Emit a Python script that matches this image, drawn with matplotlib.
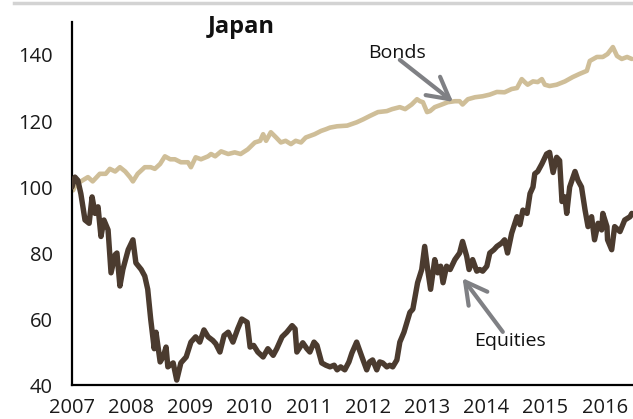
import matplotlib
matplotlib.use("Agg")
import matplotlib.pyplot as plt
from matplotlib.lines import Line2D

plt.rcParams["font.family"] = ["Open Sans", "DejaVu Sans"]

# Japan: equities vs bonds total return index (start of 2007 = 100)
equity_dates = [
    2007.00, 2007.05, 2007.10, 2007.15, 2007.22, 2007.29, 2007.34, 2007.39,
    2007.44, 2007.49, 2007.54, 2007.61, 2007.66, 2007.73, 2007.76, 2007.81,
    2007.86, 2007.95, 2008.03, 2008.08, 2008.17, 2008.23, 2008.28, 2008.33,
    2008.39, 2008.42, 2008.49, 2008.54, 2008.59, 2008.62, 2008.71, 2008.77,
    2008.84, 2008.93, 2009.01, 2009.09, 2009.16, 2009.23, 2009.30, 2009.38,
    2009.43, 2009.50, 2009.57, 2009.64, 2009.72, 2009.80, 2009.87, 2009.96,
    2010.01, 2010.07, 2010.14, 2010.23, 2010.31, 2010.40, 2010.46, 2010.55,
    2010.63, 2010.72, 2010.77, 2010.80, 2010.90, 2010.97, 2011.02, 2011.09,
    2011.14, 2011.22, 2011.29, 2011.36, 2011.43, 2011.48, 2011.54, 2011.61,
    2011.68, 2011.73, 2011.81, 2011.90, 2011.98, 2012.03, 2012.08, 2012.15,
    2012.20, 2012.25, 2012.32, 2012.37, 2012.42, 2012.49, 2012.54, 2012.61,
    2012.66, 2012.71, 2012.76, 2012.79, 2012.84, 2012.91, 2012.96, 2013.01,
    2013.06, 2013.13, 2013.18, 2013.23, 2013.27, 2013.33, 2013.39, 2013.47,
    2013.55, 2013.60, 2013.67, 2013.71, 2013.77, 2013.84, 2013.89, 2013.94,
    2014.01, 2014.06, 2014.13, 2014.18, 2014.26, 2014.31, 2014.36, 2014.43,
    2014.52, 2014.57, 2014.62, 2014.69, 2014.74, 2014.79, 2014.82, 2014.87,
    2014.94, 2015.02, 2015.07, 2015.13, 2015.19, 2015.24, 2015.28, 2015.33,
    2015.36, 2015.41, 2015.50, 2015.55, 2015.61, 2015.67, 2015.72, 2015.78,
    2015.83, 2015.89, 2015.95, 2015.97, 2016.04, 2016.05, 2016.12, 2016.17,
    2016.26, 2016.34, 2016.43, 2016.46,
]
equity_values = [
    100.0, 103.0, 102.0, 98.0, 90.0, 89.0, 97.0, 92.0,
    94.0, 85.0, 90.0, 87.0, 74.0, 79.5, 80.0, 70.0,
    75.0, 81.0, 84.0, 77.0, 75.0, 73.0, 69.0, 60.0,
    51.0, 56.0, 47.0, 48.5, 51.5, 45.5, 46.7, 41.5,
    46.7, 48.5, 53.0, 54.6, 53.0, 56.7, 54.6, 53.5,
    52.5, 50.0, 55.0, 56.0, 53.0, 57.0, 60.0, 59.0,
    51.5, 52.0, 50.0, 48.5, 51.0, 49.0, 51.0, 54.6,
    56.0, 58.0, 57.0, 50.0, 52.8, 51.0, 50.0, 53.0,
    52.0, 46.7, 46.0, 45.5, 46.0, 44.6, 45.5, 44.6,
    47.0, 49.7, 53.0, 48.5, 44.6, 47.0, 47.6, 44.6,
    47.0, 46.7, 45.5, 46.0, 45.5, 47.6, 53.0, 56.0,
    59.0, 62.0, 63.0, 66.0, 71.0, 75.0, 82.0, 75.0,
    69.0, 78.0, 74.0, 76.0, 71.0, 76.0, 75.0, 78.0,
    80.0, 83.5, 79.0, 75.0, 78.0, 74.5, 75.0, 74.5,
    76.0, 80.0, 81.0, 82.0, 83.0, 84.0, 80.0, 86.0,
    91.0, 88.6, 93.0, 92.0, 98.0, 100.0, 104.0, 104.7,
    107.0, 110.0, 110.5, 104.4, 109.0, 108.0, 95.6, 97.0,
    92.0, 100.0, 104.7, 102.0, 100.0, 93.0, 88.0, 91.0,
    84.0, 89.0, 87.0, 92.0, 88.0, 84.0, 81.0, 88.0,
    86.5, 90.0, 91.0, 92.0,
]

bond_dates = [
    2007.00, 2007.02, 2007.07, 2007.15, 2007.27, 2007.35, 2007.47, 2007.57,
    2007.64, 2007.73, 2007.81, 2007.90, 2007.98, 2008.03, 2008.11, 2008.23,
    2008.33, 2008.40, 2008.49, 2008.57, 2008.66, 2008.74, 2008.84, 2008.96,
    2009.01, 2009.09, 2009.18, 2009.30, 2009.35, 2009.42, 2009.52, 2009.64,
    2009.75, 2009.85, 2009.97, 2010.09, 2010.18, 2010.23, 2010.28, 2010.36,
    2010.45, 2010.53, 2010.61, 2010.70, 2010.78, 2010.87, 2010.95, 2011.10,
    2011.21, 2011.29, 2011.36, 2011.48, 2011.65, 2011.81, 2011.92, 2012.03,
    2012.17, 2012.32, 2012.41, 2012.54, 2012.63, 2012.74, 2012.83, 2012.88,
    2012.93, 2013.00, 2013.05, 2013.13, 2013.25, 2013.35, 2013.47, 2013.55,
    2013.60, 2013.69, 2013.81, 2013.94, 2014.06, 2014.18, 2014.31, 2014.43,
    2014.52, 2014.60, 2014.65, 2014.70, 2014.79, 2014.87, 2014.94, 2014.99,
    2015.07, 2015.19, 2015.33, 2015.46, 2015.58, 2015.70, 2015.75, 2015.87,
    2015.97, 2016.05, 2016.14, 2016.21, 2016.29, 2016.38, 2016.46,
]
bond_values = [
    100.0, 99.0, 101.0, 101.7, 103.0, 101.7, 104.0, 104.0,
    105.5, 104.7, 106.0, 104.7, 103.0, 101.7, 104.0, 106.0,
    106.0, 105.5, 107.0, 109.3, 108.4, 108.4, 107.5, 107.5,
    106.0, 109.0, 108.4, 109.3, 110.0, 109.3, 110.8, 110.0,
    110.5, 110.0, 111.4, 113.5, 114.0, 116.0, 114.0, 116.6,
    115.0, 113.5, 114.0, 113.0, 114.0, 113.5, 115.0, 116.0,
    117.0, 117.5, 118.0, 118.4, 118.6, 119.6, 120.5, 121.5,
    122.7, 123.0, 123.6, 124.2, 123.6, 125.0, 126.6, 126.0,
    125.7, 122.7, 123.0, 124.2, 125.0, 125.7, 126.0, 126.0,
    125.0, 126.6, 127.2, 127.5, 128.0, 128.8, 128.7, 129.7,
    130.0, 132.7, 131.8, 131.0, 132.0, 131.8, 132.7, 131.0,
    130.6, 131.0, 132.0, 133.3, 134.3, 135.2, 138.2, 139.4,
    139.4, 140.3, 142.4, 139.7, 138.8, 139.4, 138.8,
]

year_ticks = list(range(2007, 2017))
value_ticks = [40, 60, 80, 100, 120, 140]

EQUITY_COLOR = "#4B3B2F"
BOND_COLOR = "#CFBE98"
ARROW_COLOR = "#7F8084"

fig = plt.figure(figsize=(6.33, 4.19), dpi=100)
ax = fig.add_axes([0.1137, 0.0811, 0.8863, 0.8664])

ax.plot(bond_dates, bond_values, color=BOND_COLOR, lw=3.3,
        solid_joinstyle="round", solid_capstyle="round", zorder=2)
ax.plot(equity_dates, equity_values, color=EQUITY_COLOR, lw=3.9,
        solid_joinstyle="round", solid_capstyle="round", zorder=3)

ax.set_xlim(2007, 2016.48)
ax.set_ylim(40, 150)
ax.set_xticks(year_ticks)
ax.set_xticklabels([str(y) for y in year_ticks])
ax.set_yticks(value_ticks)
ax.tick_params(axis="both", length=0, labelsize=14.5, colors="#1a1a1a")
ax.tick_params(axis="y", pad=14)
ax.tick_params(axis="x", pad=9)

for side in ("top", "right"):
    ax.spines[side].set_visible(False)
for side in ("left", "bottom"):
    ax.spines[side].set_linewidth(1.6)
    ax.spines[side].set_color("black")

# Series labels with pointer arrows
ax.text(2012.0, 139.1, "Bonds", fontsize=14, ha="left", va="baseline",
        color="#111111")
ax.annotate("", xy=(2013.44, 125.8), xytext=(2012.54, 138.5),
            arrowprops=dict(arrowstyle="->,head_length=1.1,head_width=0.6",
                            color=ARROW_COLOR, lw=3, shrinkA=0, shrinkB=0,
                            mutation_scale=14))

ax.text(2014.40, 51.8, "Equities", fontsize=14, ha="center", va="baseline",
        color="#111111")
ax.annotate("", xy=(2013.60, 72.4), xytext=(2014.28, 56.1),
            arrowprops=dict(arrowstyle="->,head_length=1.1,head_width=0.6",
                            color=ARROW_COLOR, lw=3, shrinkA=0, shrinkB=0,
                            mutation_scale=14))

fig.text(0.3807, 0.9212, "Japan", fontsize=17, fontweight="bold",
         ha="center", va="baseline", color="#111111")

# Thin rule across the top of the panel
fig.add_artist(Line2D([14 / 633, 1.0], [1 - 3.5 / 419] * 2,
                      transform=fig.transFigure, color="#D3D3D3", lw=2.5))

fig.savefig("out.png", dpi=100)
